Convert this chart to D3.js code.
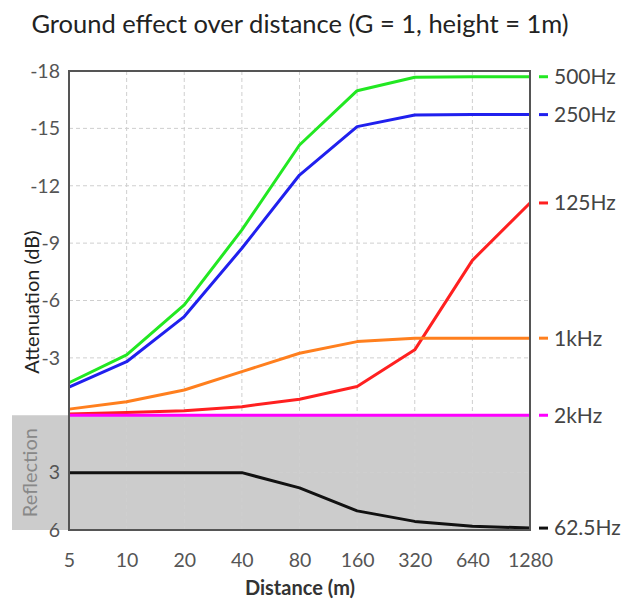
<!DOCTYPE html>
<html>
<head>
<meta charset="utf-8">
<script src="https://cdn.jsdelivr.net/npm/d3@7"></script>
<style>
  body { margin: 0; background: #fff; }
  svg { font-family: Lato, "Open Sans", sans-serif; }
</style>
</head>
<body>
<svg id="chart" width="628" height="599"></svg>
<script>
// distances (m), log2 spaced
const distances = [5, 10, 20, 40, 80, 160, 320, 640, 1280];
const yTicks = [-18, -15, -12, -9, -6, -3, 3, 6];

// attenuation in dB per frequency band
const hz62 = [3, 3, 3, 3, 3.8, 5.0, 5.55, 5.8, 5.9];
const hz125 = [-0.07, -0.14, -0.24, -0.45, -0.84, -1.5, -3.42, -8.1, -11.1];
const hz250 = [-1.47, -2.8, -5.16, -8.73, -12.56, -15.09, -15.7, -15.72, -15.72];
const hz500 = [-1.7, -3.16, -5.77, -9.69, -14.13, -16.97, -17.67, -17.7, -17.7];
const k1 = [-0.32, -0.71, -1.32, -2.28, -3.24, -3.85, -4.03, -4.03, -4.03];
const k2 = [0, 0, 0, 0, 0, 0, 0, 0, 0];

const series = [
  { name: '62.5Hz', values: hz62, color: '#111111' },
  { name: '125Hz', values: hz125, color: '#ff2020' },
  { name: '1kHz', values: k1, color: '#ff7f1e' },
  { name: '250Hz', values: hz250, color: '#2020ee' },
  { name: '500Hz', values: hz500, color: '#22e822' },
  { name: '2kHz', values: k2, color: '#ff00ff' }
];

const svg = d3.select('#chart');
const mLeft = 69, mRight = 530, mTop = 71, mBottom = 530;

const x = d3.scaleLog().base(2).domain([5, 1280]).range([mLeft, mRight]);
const y = d3.scaleLinear().domain([-18, 6]).range([mTop, mBottom]);

// reflection zone
svg.append('rect')
  .attr('x', 12).attr('y', y(0))
  .attr('width', mRight - 12).attr('height', y(6) - y(0))
  .attr('fill', '#cccccc');

svg.append('text')
  .attr('transform', `translate(37,${(y(0) + y(6)) / 2}) rotate(-90)`)
  .attr('text-anchor', 'middle')
  .attr('font-size', 20)
  .attr('fill', '#888')
  .text('Reflection');

// grid
const grid = svg.append('g')
  .attr('stroke', '#cfcfcf')
  .attr('stroke-dasharray', '4,3')
  .attr('stroke-width', 1);
grid.selectAll('.v').data(distances.slice(1, -1)).enter().append('line')
  .attr('x1', d => x(d)).attr('x2', d => x(d))
  .attr('y1', mTop).attr('y2', mBottom);
grid.selectAll('.h').data(yTicks.slice(1, -1)).enter().append('line')
  .attr('x1', mLeft).attr('x2', mRight)
  .attr('y1', d => y(d)).attr('y2', d => y(d));

// y axis
const yAxis = d3.axisLeft(y).tickValues(yTicks).tickFormat(d => String(d)).tickSize(0).tickPadding(9);
const gy = svg.append('g').attr('transform', `translate(${mLeft},0)`).call(yAxis);
gy.select('.domain').remove();
gy.selectAll('text').attr('font-size', 19.5).attr('fill', '#555').attr('font-family', 'Lato');

// x axis
const xAxis = d3.axisBottom(x).tickValues(distances).tickFormat(d3.format('d')).tickSize(0).tickPadding(23);
const gx = svg.append('g').attr('transform', `translate(0,${mBottom})`).call(xAxis);
gx.select('.domain').remove();
gx.selectAll('text').attr('font-size', 19.5).attr('fill', '#555').attr('font-family', 'Lato');

// lines
const line = d3.line()
  .x((d, i) => x(distances[i]))
  .y(d => y(d));

svg.append('g').selectAll('path')
  .data(series)
  .enter()
  .append('path')
  .attr('d', d => line(d.values))
  .attr('fill', 'none')
  .attr('stroke', d => d.color)
  .attr('stroke-width', 3)
  .attr('stroke-linejoin', 'round');

// frame
svg.append('rect')
  .attr('x', mLeft).attr('y', mTop)
  .attr('width', mRight - mLeft).attr('height', mBottom - mTop)
  .attr('fill', 'none')
  .attr('stroke', '#555')
  .attr('stroke-width', 2);

// right-side labels
const labels = svg.append('g').selectAll('g')
  .data(series)
  .enter()
  .append('g')
  .attr('transform', d => `translate(0,${y(d.values[d.values.length - 1])})`);
labels.append('line')
  .attr('x1', 539).attr('x2', 548)
  .attr('stroke', d => d.color)
  .attr('stroke-width', 3);
labels.append('text')
  .attr('x', 554).attr('dy', '0.35em')
  .attr('font-size', 21)
  .attr('fill', '#444')
  .text(d => d.name);

// titles
svg.append('text')
  .attr('x', 300).attr('y', 33)
  .attr('text-anchor', 'middle')
  .attr('font-size', 25.5)
  .attr('fill', '#222')
  .text('Ground effect over distance (G = 1, height = 1m)');

svg.append('text')
  .attr('transform', `translate(39,302) rotate(-90)`)
  .attr('text-anchor', 'middle')
  .attr('font-size', 20)
  .attr('fill', '#222')
  .text('Attenuation (dB)');

svg.append('text')
  .attr('x', 300).attr('y', 595)
  .attr('text-anchor', 'middle')
  .attr('font-size', 20)
  .attr('font-weight', 'bold')
  .attr('fill', '#333')
  .text('Distance (m)');
</script>
</body>
</html>
